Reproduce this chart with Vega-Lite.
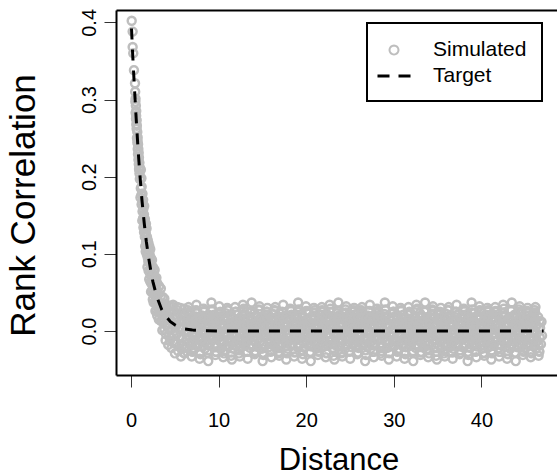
{
  "$schema": "https://vega.github.io/schema/vega-lite/v6.json",
  "width": 441,
  "height": 365,
  "autosize": {"type": "none"},
  "padding": {"left": 116, "top": 10, "right": 0, "bottom": 101},
  "background": "white",
  "config": {
    "view": {"stroke": null},
    "font": "Liberation Sans",
    "legend": {"orient": "none", "legendX": 251, "legendY": 13, "padding": 15, "strokeColor": "black", "strokeWidth": 2, "labelFont": "Liberation Sans", "labelFontSize": 21, "labelColor": "black", "symbolSize": 484, "symbolStrokeWidth": 2, "labelOffset": 27, "rowPadding": 4, "cornerRadius": 0, "labelLimit": 300}
  },
  "datasets": {
    "sim": [
      {"x":0.08,"y":0.402},{"x":0.19,"y":0.388},{"x":0.19,"y":0.368},{"x":0.26,"y":0.360},{"x":0.34,"y":0.338},{"x":0.46,"y":0.321},
      {"x":0.48,"y":0.310},{"x":0.5,"y":0.297},{"x":0.52,"y":0.301},{"x":0.53,"y":0.283},{"x":0.56,"y":0.292},{"x":0.57,"y":0.275},
      {"x":0.6,"y":0.285},{"x":0.61,"y":0.268},{"x":0.59,"y":0.279},{"x":0.64,"y":0.262},{"x":0.65,"y":0.273},{"x":0.68,"y":0.25},{"x":0.67,"y":0.266},
      {"x":0.72,"y":0.258},{"x":0.73,"y":0.244},{"x":0.76,"y":0.251},{"x":0.77,"y":0.236},{"x":0.75,"y":0.247},{"x":0.8,"y":0.229},{"x":0.81,"y":0.242},
      {"x":0.84,"y":0.236},{"x":0.85,"y":0.222},{"x":0.88,"y":0.231},{"x":0.89,"y":0.216},{"x":0.92,"y":0.21},{"x":0.91,"y":0.225},
      {"x":0.96,"y":0.218},{"x":0.97,"y":0.204},{"x":0.95,"y":0.209},{"x":1.0,"y":0.212},{"x":1.01,"y":0.197},
      {"x":1.08,"y":0.173},{"x":1.12,"y":0.185},{"x":1.10,"y":0.197},{"x":1.13,"y":0.209},
      {"x":1.21,"y":0.164},{"x":1.18,"y":0.176},{"x":1.22,"y":0.187},{"x":1.19,"y":0.198},
      {"x":1.29,"y":0.143},{"x":1.32,"y":0.155},{"x":1.28,"y":0.167},{"x":1.31,"y":0.178},
      {"x":1.42,"y":0.134},{"x":1.38,"y":0.146},{"x":1.41,"y":0.158},{"x":1.39,"y":0.170},
      {"x":1.49,"y":0.128},{"x":1.52,"y":0.140},{"x":1.48,"y":0.151},{"x":1.51,"y":0.162},
      {"x":1.62,"y":0.110},{"x":1.58,"y":0.122},{"x":1.61,"y":0.134},{"x":1.59,"y":0.145},
      {"x":1.68,"y":0.103},{"x":1.72,"y":0.115},{"x":1.69,"y":0.127},{"x":1.71,"y":0.139},
      {"x":1.81,"y":0.099},{"x":1.79,"y":0.111},{"x":1.82,"y":0.122},{"x":1.78,"y":0.133},
      {"x":1.88,"y":0.083},{"x":1.92,"y":0.095},{"x":1.89,"y":0.107},{"x":1.91,"y":0.118},
      {"x":2.01,"y":0.078},{"x":1.98,"y":0.090},{"x":2.02,"y":0.102},{"x":1.99,"y":0.114},
      {"x":2.08,"y":0.067},{"x":2.12,"y":0.078},{"x":2.1,"y":0.089},{"x":2.11,"y":0.100},{"x":2.09,"y":0.110},
      {"x":2.21,"y":0.064},{"x":2.18,"y":0.075},{"x":2.22,"y":0.086},{"x":2.19,"y":0.096},{"x":2.2,"y":0.106},
      {"x":2.29,"y":0.051},{"x":2.32,"y":0.062},{"x":2.28,"y":0.073},{"x":2.31,"y":0.084},{"x":2.3,"y":0.094},
      {"x":2.42,"y":0.050},{"x":2.38,"y":0.061},{"x":2.41,"y":0.072},{"x":2.39,"y":0.082},{"x":2.4,"y":0.092},
      {"x":2.49,"y":0.041},{"x":2.52,"y":0.052},{"x":2.48,"y":0.063},{"x":2.51,"y":0.073},{"x":2.5,"y":0.083},
      {"x":2.58,"y":0.037},{"x":2.62,"y":0.048},{"x":2.6,"y":0.059},{"x":2.59,"y":0.070},{"x":2.61,"y":0.080},
      {"x":2.71,"y":0.037},{"x":2.68,"y":0.048},{"x":2.72,"y":0.059},{"x":2.69,"y":0.069},{"x":2.7,"y":0.079},
      {"x":2.79,"y":0.026},{"x":2.82,"y":0.037},{"x":2.78,"y":0.048},{"x":2.81,"y":0.059},{"x":2.8,"y":0.069},
      {"x":2.92,"y":0.027},{"x":2.88,"y":0.038},{"x":2.91,"y":0.049},{"x":2.89,"y":0.059},{"x":2.9,"y":0.069},
      {"x":2.99,"y":0.020},{"x":3.02,"y":0.031},{"x":2.98,"y":0.042},{"x":3.01,"y":0.052},{"x":3.0,"y":0.062},
      {"x":3.18,"y":0.015},{"x":3.23,"y":0.026},{"x":3.2,"y":0.037},{"x":3.16,"y":0.048},{"x":3.22,"y":0.058},
      {"x":3.42,"y":0.013},{"x":3.37,"y":0.024},{"x":3.44,"y":0.035},{"x":3.39,"y":0.045},{"x":3.41,"y":0.055},
      {"x":3.58,"y":0.001},{"x":3.63,"y":0.012},{"x":3.6,"y":0.023},{"x":3.56,"y":0.034},{"x":3.62,"y":0.044},
      {"x":3.82,"y":0.002},{"x":3.77,"y":0.013},{"x":3.84,"y":0.024},{"x":3.79,"y":0.034},{"x":3.81,"y":0.042},
      {"x":3.98,"y":-0.004},{"x":4.04,"y":0.007},{"x":4.0,"y":0.016},{"x":3.95,"y":0.025},{"x":4.07,"y":0.033},
      {"x":4.32,"y":-0.007},{"x":4.26,"y":0.004},{"x":4.35,"y":0.015},{"x":4.28,"y":0.025},{"x":4.31,"y":0.033},
      {"x":4.58,"y":-0.008},{"x":4.64,"y":0.003},{"x":4.6,"y":0.013},{"x":4.55,"y":0.023},{"x":4.66,"y":0.032},
      {"x":4.92,"y":-0.016},{"x":4.86,"y":-0.005},{"x":4.95,"y":0.006},{"x":4.88,"y":0.016},{"x":4.9,"y":0.026},
      {"x":5.18,"y":-0.015},{"x":5.24,"y":-0.004},{"x":5.2,"y":0.007},{"x":5.15,"y":0.017},{"x":5.26,"y":0.027},
      {"x":5.52,"y":-0.019},{"x":5.46,"y":-0.008},{"x":5.55,"y":0.003},{"x":5.48,"y":0.013},{"x":5.5,"y":0.023},
      {"x":5.83,"y":-0.019},{"x":5.89,"y":-0.008},{"x":5.85,"y":0.003},{"x":5.8,"y":0.014},{"x":5.91,"y":0.023},
      {"x":3.95,"y":-0.012},{"x":4.25,"y":-0.018},{"x":4.62,"y":-0.022},{"x":5.02,"y":-0.029},{"x":5.38,"y":-0.026},{"x":5.7,"y":-0.033},{"x":5.3,"y":0.031},{"x":4.8,"y":0.034},{"x":6.05,"y":0.029},{"x":5.97,"y":-0.028},{"x":4.45,"y":-0.013},{"x":5.6,"y":0.03},{"x":6.1,"y":-0.022},{"x":6.1,"y":0.012},
      {"x":6.30,"y":-0.021},{"x":6.42,"y":-0.011},{"x":6.20,"y":0.000},{"x":6.36,"y":0.011},{"x":6.16,"y":0.021},{"x":6.48,"y":0.027},{"x":6.12,"y":-0.029},
      {"x":6.85,"y":-0.019},{"x":6.67,"y":-0.008},{"x":6.89,"y":0.002},{"x":6.70,"y":0.013},{"x":6.78,"y":0.022},{"x":6.57,"y":0.031},{"x":6.93,"y":-0.033},
      {"x":7.08,"y":-0.022},{"x":7.25,"y":-0.012},{"x":7.20,"y":-0.002},{"x":7.11,"y":0.009},{"x":7.33,"y":0.019},{"x":7.38,"y":0.025},{"x":7.02,"y":-0.027},
      {"x":7.65,"y":-0.018},{"x":7.77,"y":-0.007},{"x":7.55,"y":0.003},{"x":7.71,"y":0.014},{"x":7.51,"y":0.023},{"x":7.47,"y":0.034},{"x":7.83,"y":-0.036},
      {"x":8.20,"y":-0.020},{"x":8.02,"y":-0.010},{"x":8.24,"y":0.001},{"x":8.05,"y":0.010},{"x":8.13,"y":0.020},{"x":8.28,"y":0.029},{"x":7.92,"y":-0.030},
      {"x":8.43,"y":-0.023},{"x":8.60,"y":-0.013},{"x":8.55,"y":-0.003},{"x":8.46,"y":0.008},{"x":8.68,"y":0.018},{"x":8.37,"y":0.026},{"x":8.73,"y":-0.028},
      {"x":9.00,"y":-0.017},{"x":9.12,"y":-0.006},{"x":8.90,"y":0.004},{"x":9.06,"y":0.012},{"x":8.86,"y":0.021},{"x":9.18,"y":0.037},{"x":8.82,"y":-0.039},
      {"x":9.55,"y":-0.021},{"x":9.37,"y":-0.011},{"x":9.59,"y":0.000},{"x":9.40,"y":0.011},{"x":9.48,"y":0.021},{"x":9.27,"y":0.028},{"x":9.63,"y":-0.031},
      {"x":9.78,"y":-0.019},{"x":9.95,"y":-0.008},{"x":9.90,"y":0.002},{"x":9.81,"y":0.013},{"x":10.03,"y":0.022},{"x":10.08,"y":0.032},{"x":9.72,"y":-0.027},
      {"x":10.35,"y":-0.022},{"x":10.47,"y":-0.012},{"x":10.25,"y":-0.002},{"x":10.41,"y":0.009},{"x":10.21,"y":0.019},{"x":10.17,"y":0.025},{"x":10.53,"y":-0.034},
      {"x":10.90,"y":-0.018},{"x":10.72,"y":-0.007},{"x":10.94,"y":0.003},{"x":10.75,"y":0.014},{"x":10.83,"y":0.023},{"x":10.98,"y":0.030},{"x":10.62,"y":-0.029},
      {"x":11.13,"y":-0.020},{"x":11.30,"y":-0.010},{"x":11.25,"y":0.001},{"x":11.16,"y":0.010},{"x":11.38,"y":0.020},{"x":11.07,"y":0.027},{"x":11.43,"y":-0.032},
      {"x":11.70,"y":-0.023},{"x":11.82,"y":-0.013},{"x":11.60,"y":-0.003},{"x":11.76,"y":0.008},{"x":11.56,"y":0.018},{"x":11.88,"y":0.031},{"x":11.52,"y":-0.037},
      {"x":12.25,"y":-0.017},{"x":12.07,"y":-0.006},{"x":12.29,"y":0.004},{"x":12.10,"y":0.012},{"x":12.18,"y":0.021},{"x":11.97,"y":0.025},{"x":12.33,"y":-0.029},
      {"x":12.48,"y":-0.021},{"x":12.65,"y":-0.011},{"x":12.60,"y":0.000},{"x":12.51,"y":0.011},{"x":12.73,"y":0.021},{"x":12.78,"y":0.034},{"x":12.42,"y":-0.033},
      {"x":13.05,"y":-0.019},{"x":13.17,"y":-0.008},{"x":12.95,"y":0.002},{"x":13.11,"y":0.013},{"x":12.91,"y":0.022},{"x":12.87,"y":0.029},{"x":13.23,"y":-0.027},
      {"x":13.60,"y":-0.022},{"x":13.42,"y":-0.012},{"x":13.64,"y":-0.002},{"x":13.45,"y":0.009},{"x":13.53,"y":0.019},{"x":13.68,"y":0.026},{"x":13.32,"y":-0.036},
      {"x":13.83,"y":-0.018},{"x":14.00,"y":-0.007},{"x":13.95,"y":0.003},{"x":13.86,"y":0.014},{"x":14.08,"y":0.023},{"x":13.77,"y":0.037},{"x":14.13,"y":-0.030},
      {"x":14.40,"y":-0.020},{"x":14.52,"y":-0.010},{"x":14.30,"y":0.001},{"x":14.46,"y":0.010},{"x":14.26,"y":0.020},{"x":14.58,"y":0.028},{"x":14.22,"y":-0.028},
      {"x":14.95,"y":-0.023},{"x":14.77,"y":-0.013},{"x":14.99,"y":-0.003},{"x":14.80,"y":0.008},{"x":14.88,"y":0.018},{"x":14.67,"y":0.032},{"x":15.03,"y":-0.039},
      {"x":15.18,"y":-0.017},{"x":15.35,"y":-0.006},{"x":15.30,"y":0.004},{"x":15.21,"y":0.012},{"x":15.43,"y":0.021},{"x":15.48,"y":0.025},{"x":15.12,"y":-0.031},
      {"x":15.75,"y":-0.021},{"x":15.87,"y":-0.011},{"x":15.65,"y":0.000},{"x":15.81,"y":0.011},{"x":15.61,"y":0.021},{"x":15.57,"y":0.030},{"x":15.93,"y":-0.027},
      {"x":16.30,"y":-0.019},{"x":16.12,"y":-0.008},{"x":16.34,"y":0.002},{"x":16.15,"y":0.013},{"x":16.23,"y":0.022},{"x":16.38,"y":0.027},{"x":16.02,"y":-0.034},
      {"x":16.53,"y":-0.022},{"x":16.70,"y":-0.012},{"x":16.65,"y":-0.002},{"x":16.56,"y":0.009},{"x":16.78,"y":0.019},{"x":16.47,"y":0.031},{"x":16.83,"y":-0.029},
      {"x":17.10,"y":-0.018},{"x":17.22,"y":-0.007},{"x":17.00,"y":0.003},{"x":17.16,"y":0.014},{"x":16.96,"y":0.023},{"x":17.28,"y":0.025},{"x":16.92,"y":-0.032},
      {"x":17.65,"y":-0.020},{"x":17.47,"y":-0.010},{"x":17.69,"y":0.001},{"x":17.50,"y":0.010},{"x":17.58,"y":0.020},{"x":17.37,"y":0.034},{"x":17.73,"y":-0.037},
      {"x":17.88,"y":-0.023},{"x":18.05,"y":-0.013},{"x":18.00,"y":-0.003},{"x":17.91,"y":0.008},{"x":18.13,"y":0.018},{"x":18.18,"y":0.029},{"x":17.82,"y":-0.029},
      {"x":18.45,"y":-0.017},{"x":18.57,"y":-0.006},{"x":18.35,"y":0.004},{"x":18.51,"y":0.012},{"x":18.31,"y":0.021},{"x":18.27,"y":0.026},{"x":18.63,"y":-0.033},
      {"x":19.00,"y":-0.021},{"x":18.82,"y":-0.011},{"x":19.04,"y":0.000},{"x":18.85,"y":0.011},{"x":18.93,"y":0.021},{"x":19.08,"y":0.037},{"x":18.72,"y":-0.027},
      {"x":19.23,"y":-0.019},{"x":19.40,"y":-0.008},{"x":19.35,"y":0.002},{"x":19.26,"y":0.013},{"x":19.48,"y":0.022},{"x":19.17,"y":0.028},{"x":19.53,"y":-0.036},
      {"x":19.80,"y":-0.022},{"x":19.92,"y":-0.012},{"x":19.70,"y":-0.002},{"x":19.86,"y":0.009},{"x":19.66,"y":0.019},{"x":19.98,"y":0.032},{"x":19.62,"y":-0.030},
      {"x":20.35,"y":-0.018},{"x":20.17,"y":-0.007},{"x":20.39,"y":0.003},{"x":20.20,"y":0.014},{"x":20.28,"y":0.023},{"x":20.07,"y":0.025},{"x":20.43,"y":-0.028},
      {"x":20.58,"y":-0.020},{"x":20.75,"y":-0.010},{"x":20.70,"y":0.001},{"x":20.61,"y":0.010},{"x":20.83,"y":0.020},{"x":20.88,"y":0.030},{"x":20.52,"y":-0.039},
      {"x":21.15,"y":-0.023},{"x":21.27,"y":-0.013},{"x":21.05,"y":-0.003},{"x":21.21,"y":0.008},{"x":21.01,"y":0.018},{"x":20.97,"y":0.027},{"x":21.33,"y":-0.031},
      {"x":21.70,"y":-0.017},{"x":21.52,"y":-0.006},{"x":21.74,"y":0.004},{"x":21.55,"y":0.012},{"x":21.63,"y":0.021},{"x":21.78,"y":0.031},{"x":21.42,"y":-0.027},
      {"x":21.93,"y":-0.021},{"x":22.10,"y":-0.011},{"x":22.05,"y":0.000},{"x":21.96,"y":0.011},{"x":22.18,"y":0.021},{"x":21.87,"y":0.025},{"x":22.23,"y":-0.034},
      {"x":22.50,"y":-0.019},{"x":22.62,"y":-0.008},{"x":22.40,"y":0.002},{"x":22.56,"y":0.013},{"x":22.36,"y":0.022},{"x":22.68,"y":0.034},{"x":22.32,"y":-0.029},
      {"x":23.05,"y":-0.022},{"x":22.87,"y":-0.012},{"x":23.09,"y":-0.002},{"x":22.90,"y":0.009},{"x":22.98,"y":0.019},{"x":22.77,"y":0.029},{"x":23.13,"y":-0.032},
      {"x":23.28,"y":-0.018},{"x":23.45,"y":-0.007},{"x":23.40,"y":0.003},{"x":23.31,"y":0.014},{"x":23.53,"y":0.023},{"x":23.58,"y":0.026},{"x":23.22,"y":-0.037},
      {"x":23.85,"y":-0.020},{"x":23.97,"y":-0.010},{"x":23.75,"y":0.001},{"x":23.91,"y":0.010},{"x":23.71,"y":0.020},{"x":23.67,"y":0.037},{"x":24.03,"y":-0.029},
      {"x":24.40,"y":-0.023},{"x":24.22,"y":-0.013},{"x":24.44,"y":-0.003},{"x":24.25,"y":0.008},{"x":24.33,"y":0.018},{"x":24.48,"y":0.028},{"x":24.12,"y":-0.033},
      {"x":24.63,"y":-0.017},{"x":24.80,"y":-0.006},{"x":24.75,"y":0.004},{"x":24.66,"y":0.012},{"x":24.88,"y":0.021},{"x":24.57,"y":0.032},{"x":24.93,"y":-0.027},
      {"x":25.20,"y":-0.021},{"x":25.32,"y":-0.011},{"x":25.10,"y":0.000},{"x":25.26,"y":0.011},{"x":25.06,"y":0.021},{"x":25.38,"y":0.025},{"x":25.02,"y":-0.036},
      {"x":25.75,"y":-0.019},{"x":25.57,"y":-0.008},{"x":25.79,"y":0.002},{"x":25.60,"y":0.013},{"x":25.68,"y":0.022},{"x":25.47,"y":0.030},{"x":25.83,"y":-0.030},
      {"x":25.98,"y":-0.022},{"x":26.15,"y":-0.012},{"x":26.10,"y":-0.002},{"x":26.01,"y":0.009},{"x":26.23,"y":0.019},{"x":26.28,"y":0.027},{"x":25.92,"y":-0.028},
      {"x":26.55,"y":-0.018},{"x":26.67,"y":-0.007},{"x":26.45,"y":0.003},{"x":26.61,"y":0.014},{"x":26.41,"y":0.023},{"x":26.37,"y":0.031},{"x":26.73,"y":-0.039},
      {"x":27.10,"y":-0.020},{"x":26.92,"y":-0.010},{"x":27.14,"y":0.001},{"x":26.95,"y":0.010},{"x":27.03,"y":0.020},{"x":27.18,"y":0.025},{"x":26.82,"y":-0.031},
      {"x":27.33,"y":-0.023},{"x":27.50,"y":-0.013},{"x":27.45,"y":-0.003},{"x":27.36,"y":0.008},{"x":27.58,"y":0.018},{"x":27.27,"y":0.034},{"x":27.63,"y":-0.027},
      {"x":27.90,"y":-0.017},{"x":28.02,"y":-0.006},{"x":27.80,"y":0.004},{"x":27.96,"y":0.012},{"x":27.76,"y":0.021},{"x":28.08,"y":0.029},{"x":27.72,"y":-0.034},
      {"x":28.45,"y":-0.021},{"x":28.27,"y":-0.011},{"x":28.49,"y":0.000},{"x":28.30,"y":0.011},{"x":28.38,"y":0.021},{"x":28.17,"y":0.026},{"x":28.53,"y":-0.029},
      {"x":28.68,"y":-0.019},{"x":28.85,"y":-0.008},{"x":28.80,"y":0.002},{"x":28.71,"y":0.013},{"x":28.93,"y":0.022},{"x":28.98,"y":0.037},{"x":28.62,"y":-0.032},
      {"x":29.25,"y":-0.022},{"x":29.37,"y":-0.012},{"x":29.15,"y":-0.002},{"x":29.31,"y":0.009},{"x":29.11,"y":0.019},{"x":29.07,"y":0.028},{"x":29.43,"y":-0.037},
      {"x":29.80,"y":-0.018},{"x":29.62,"y":-0.007},{"x":29.84,"y":0.003},{"x":29.65,"y":0.014},{"x":29.73,"y":0.023},{"x":29.88,"y":0.032},{"x":29.52,"y":-0.029},
      {"x":30.03,"y":-0.020},{"x":30.20,"y":-0.010},{"x":30.15,"y":0.001},{"x":30.06,"y":0.010},{"x":30.28,"y":0.020},{"x":29.97,"y":0.025},{"x":30.33,"y":-0.033},
      {"x":30.60,"y":-0.023},{"x":30.72,"y":-0.013},{"x":30.50,"y":-0.003},{"x":30.66,"y":0.008},{"x":30.46,"y":0.018},{"x":30.78,"y":0.030},{"x":30.42,"y":-0.027},
      {"x":31.15,"y":-0.017},{"x":30.97,"y":-0.006},{"x":31.19,"y":0.004},{"x":31.00,"y":0.012},{"x":31.08,"y":0.021},{"x":30.87,"y":0.027},{"x":31.23,"y":-0.036},
      {"x":31.38,"y":-0.021},{"x":31.55,"y":-0.011},{"x":31.50,"y":0.000},{"x":31.41,"y":0.011},{"x":31.63,"y":0.021},{"x":31.68,"y":0.031},{"x":31.32,"y":-0.030},
      {"x":31.95,"y":-0.019},{"x":32.07,"y":-0.008},{"x":31.85,"y":0.002},{"x":32.01,"y":0.013},{"x":31.81,"y":0.022},{"x":31.77,"y":0.025},{"x":32.13,"y":-0.028},
      {"x":32.50,"y":-0.022},{"x":32.32,"y":-0.012},{"x":32.54,"y":-0.002},{"x":32.35,"y":0.009},{"x":32.43,"y":0.019},{"x":32.58,"y":0.034},{"x":32.22,"y":-0.039},
      {"x":32.73,"y":-0.018},{"x":32.90,"y":-0.007},{"x":32.85,"y":0.003},{"x":32.76,"y":0.014},{"x":32.98,"y":0.023},{"x":32.67,"y":0.029},{"x":33.03,"y":-0.031},
      {"x":33.30,"y":-0.020},{"x":33.42,"y":-0.010},{"x":33.20,"y":0.001},{"x":33.36,"y":0.010},{"x":33.16,"y":0.020},{"x":33.48,"y":0.026},{"x":33.12,"y":-0.027},
      {"x":33.85,"y":-0.023},{"x":33.67,"y":-0.013},{"x":33.89,"y":-0.003},{"x":33.70,"y":0.008},{"x":33.78,"y":0.018},{"x":33.57,"y":0.037},{"x":33.93,"y":-0.034},
      {"x":34.08,"y":-0.017},{"x":34.25,"y":-0.006},{"x":34.20,"y":0.004},{"x":34.11,"y":0.012},{"x":34.33,"y":0.021},{"x":34.38,"y":0.028},{"x":34.02,"y":-0.029},
      {"x":34.65,"y":-0.021},{"x":34.77,"y":-0.011},{"x":34.55,"y":0.000},{"x":34.71,"y":0.011},{"x":34.51,"y":0.021},{"x":34.47,"y":0.032},{"x":34.83,"y":-0.032},
      {"x":35.20,"y":-0.019},{"x":35.02,"y":-0.008},{"x":35.24,"y":0.002},{"x":35.05,"y":0.013},{"x":35.13,"y":0.022},{"x":35.28,"y":0.025},{"x":34.92,"y":-0.037},
      {"x":35.43,"y":-0.022},{"x":35.60,"y":-0.012},{"x":35.55,"y":-0.002},{"x":35.46,"y":0.009},{"x":35.68,"y":0.019},{"x":35.37,"y":0.030},{"x":35.73,"y":-0.029},
      {"x":36.00,"y":-0.018},{"x":36.12,"y":-0.007},{"x":35.90,"y":0.003},{"x":36.06,"y":0.014},{"x":35.86,"y":0.023},{"x":36.18,"y":0.027},{"x":35.82,"y":-0.033},
      {"x":36.55,"y":-0.020},{"x":36.37,"y":-0.010},{"x":36.59,"y":0.001},{"x":36.40,"y":0.010},{"x":36.48,"y":0.020},{"x":36.27,"y":0.031},{"x":36.63,"y":-0.027},
      {"x":36.78,"y":-0.023},{"x":36.95,"y":-0.013},{"x":36.90,"y":-0.003},{"x":36.81,"y":0.008},{"x":37.03,"y":0.018},{"x":37.08,"y":0.025},{"x":36.72,"y":-0.036},
      {"x":37.35,"y":-0.017},{"x":37.47,"y":-0.006},{"x":37.25,"y":0.004},{"x":37.41,"y":0.012},{"x":37.21,"y":0.021},{"x":37.17,"y":0.034},{"x":37.53,"y":-0.030},
      {"x":37.90,"y":-0.021},{"x":37.72,"y":-0.011},{"x":37.94,"y":0.000},{"x":37.75,"y":0.011},{"x":37.83,"y":0.021},{"x":37.98,"y":0.029},{"x":37.62,"y":-0.028},
      {"x":38.13,"y":-0.019},{"x":38.30,"y":-0.008},{"x":38.25,"y":0.002},{"x":38.16,"y":0.013},{"x":38.38,"y":0.022},{"x":38.07,"y":0.026},{"x":38.43,"y":-0.039},
      {"x":38.70,"y":-0.022},{"x":38.82,"y":-0.012},{"x":38.60,"y":-0.002},{"x":38.76,"y":0.009},{"x":38.56,"y":0.019},{"x":38.88,"y":0.037},{"x":38.52,"y":-0.031},
      {"x":39.25,"y":-0.018},{"x":39.07,"y":-0.007},{"x":39.29,"y":0.003},{"x":39.10,"y":0.014},{"x":39.18,"y":0.023},{"x":38.97,"y":0.028},{"x":39.33,"y":-0.027},
      {"x":39.48,"y":-0.020},{"x":39.65,"y":-0.010},{"x":39.60,"y":0.001},{"x":39.51,"y":0.010},{"x":39.73,"y":0.020},{"x":39.78,"y":0.032},{"x":39.42,"y":-0.034},
      {"x":40.05,"y":-0.023},{"x":40.17,"y":-0.013},{"x":39.95,"y":-0.003},{"x":40.11,"y":0.008},{"x":39.91,"y":0.018},{"x":39.87,"y":0.025},{"x":40.23,"y":-0.029},
      {"x":40.60,"y":-0.017},{"x":40.42,"y":-0.006},{"x":40.64,"y":0.004},{"x":40.45,"y":0.012},{"x":40.53,"y":0.021},{"x":40.68,"y":0.030},{"x":40.32,"y":-0.032},
      {"x":40.83,"y":-0.021},{"x":41.00,"y":-0.011},{"x":40.95,"y":0.000},{"x":40.86,"y":0.011},{"x":41.08,"y":0.021},{"x":40.77,"y":0.027},{"x":41.13,"y":-0.037},
      {"x":41.40,"y":-0.019},{"x":41.52,"y":-0.008},{"x":41.30,"y":0.002},{"x":41.46,"y":0.013},{"x":41.26,"y":0.022},{"x":41.58,"y":0.031},{"x":41.22,"y":-0.029},
      {"x":41.95,"y":-0.022},{"x":41.77,"y":-0.012},{"x":41.99,"y":-0.002},{"x":41.80,"y":0.009},{"x":41.88,"y":0.019},{"x":41.67,"y":0.025},{"x":42.03,"y":-0.033},
      {"x":42.18,"y":-0.018},{"x":42.35,"y":-0.007},{"x":42.30,"y":0.003},{"x":42.21,"y":0.014},{"x":42.43,"y":0.023},{"x":42.48,"y":0.034},{"x":42.12,"y":-0.027},
      {"x":42.75,"y":-0.020},{"x":42.87,"y":-0.010},{"x":42.65,"y":0.001},{"x":42.81,"y":0.010},{"x":42.61,"y":0.020},{"x":42.57,"y":0.029},{"x":42.93,"y":-0.036},
      {"x":43.30,"y":-0.023},{"x":43.12,"y":-0.013},{"x":43.34,"y":-0.003},{"x":43.15,"y":0.008},{"x":43.23,"y":0.018},{"x":43.38,"y":0.026},{"x":43.02,"y":-0.030},
      {"x":43.53,"y":-0.017},{"x":43.70,"y":-0.006},{"x":43.65,"y":0.004},{"x":43.56,"y":0.012},{"x":43.78,"y":0.021},{"x":43.47,"y":0.037},{"x":43.83,"y":-0.028},
      {"x":44.10,"y":-0.021},{"x":44.22,"y":-0.011},{"x":44.00,"y":0.000},{"x":44.16,"y":0.011},{"x":43.96,"y":0.021},{"x":44.28,"y":0.028},{"x":43.92,"y":-0.039},
      {"x":44.65,"y":-0.019},{"x":44.47,"y":-0.008},{"x":44.69,"y":0.002},{"x":44.50,"y":0.013},{"x":44.58,"y":0.022},{"x":44.37,"y":0.032},{"x":44.73,"y":-0.031},
      {"x":44.88,"y":-0.022},{"x":45.05,"y":-0.012},{"x":45.00,"y":-0.002},{"x":44.91,"y":0.009},{"x":45.13,"y":0.019},{"x":45.18,"y":0.025},{"x":44.82,"y":-0.027},
      {"x":45.45,"y":-0.018},{"x":45.57,"y":-0.007},{"x":45.35,"y":0.003},{"x":45.51,"y":0.014},{"x":45.31,"y":0.023},{"x":45.27,"y":0.030},{"x":45.63,"y":-0.034},
      {"x":46.00,"y":-0.020},{"x":45.82,"y":-0.010},{"x":46.04,"y":0.001},{"x":45.85,"y":0.010},{"x":45.93,"y":0.020},{"x":46.08,"y":0.027},{"x":45.72,"y":-0.029},
      {"x":46.23,"y":-0.023},{"x":46.40,"y":-0.013},{"x":46.35,"y":-0.003},{"x":46.26,"y":0.008},{"x":46.48,"y":0.018},{"x":46.17,"y":0.031},{"x":46.53,"y":-0.032},
      {"x":46.80,"y":-0.017},{"x":46.92,"y":-0.006},{"x":46.70,"y":0.004},{"x":46.86,"y":0.012},{"x":46.62,"y":-0.027},
      {"x":6.58,"y":-0.016},{"x":6.46,"y":-0.005},{"x":6.63,"y":0.006},{"x":6.5,"y":0.016},{"x":6.53,"y":0.024},
      {"x":6.92,"y":-0.013},{"x":7.06,"y":-0.003},{"x":6.96,"y":0.008},{"x":7.04,"y":0.017},{"x":6.98,"y":-0.026},
      {"x":7.48,"y":-0.017},{"x":7.36,"y":-0.007},{"x":7.53,"y":0.004},{"x":7.4,"y":0.014},{"x":7.43,"y":0.027},
      {"x":7.82,"y":-0.012},{"x":7.96,"y":-0.002},{"x":7.86,"y":0.009},{"x":7.94,"y":0.018},{"x":7.88,"y":-0.028},
      {"x":8.38,"y":-0.015},{"x":8.26,"y":-0.004},{"x":8.43,"y":0.006},{"x":8.3,"y":0.015},{"x":8.33,"y":0.025},
      {"x":8.72,"y":-0.018},{"x":8.86,"y":-0.008},{"x":8.76,"y":0.003},{"x":8.84,"y":0.013},{"x":8.78,"y":-0.025},
      {"x":9.28,"y":-0.011},{"x":9.16,"y":-0.001},{"x":9.33,"y":0.008},{"x":9.2,"y":0.017},{"x":9.23,"y":0.026},
      {"x":9.62,"y":-0.016},{"x":9.76,"y":-0.005},{"x":9.66,"y":0.006},{"x":9.74,"y":0.016},{"x":9.68,"y":-0.027},
      {"x":10.18,"y":-0.013},{"x":10.06,"y":-0.003},{"x":10.23,"y":0.008},{"x":10.1,"y":0.017},{"x":10.13,"y":0.024},
      {"x":10.52,"y":-0.017},{"x":10.66,"y":-0.007},{"x":10.56,"y":0.004},{"x":10.64,"y":0.014},{"x":10.58,"y":-0.026},
      {"x":11.08,"y":-0.012},{"x":10.96,"y":-0.002},{"x":11.13,"y":0.009},{"x":11.0,"y":0.018},{"x":11.03,"y":0.027},
      {"x":11.42,"y":-0.015},{"x":11.56,"y":-0.004},{"x":11.46,"y":0.006},{"x":11.54,"y":0.015},{"x":11.48,"y":-0.028},
      {"x":11.98,"y":-0.018},{"x":11.86,"y":-0.008},{"x":12.03,"y":0.003},{"x":11.9,"y":0.013},{"x":11.93,"y":0.025},
      {"x":12.32,"y":-0.011},{"x":12.46,"y":-0.001},{"x":12.36,"y":0.008},{"x":12.44,"y":0.017},{"x":12.38,"y":-0.025},
      {"x":12.88,"y":-0.016},{"x":12.76,"y":-0.005},{"x":12.93,"y":0.006},{"x":12.8,"y":0.016},{"x":12.83,"y":0.026},
      {"x":13.22,"y":-0.013},{"x":13.36,"y":-0.003},{"x":13.26,"y":0.008},{"x":13.34,"y":0.017},{"x":13.28,"y":-0.027},
      {"x":13.78,"y":-0.017},{"x":13.66,"y":-0.007},{"x":13.83,"y":0.004},{"x":13.7,"y":0.014},{"x":13.73,"y":0.024},
      {"x":14.12,"y":-0.012},{"x":14.26,"y":-0.002},{"x":14.16,"y":0.009},{"x":14.24,"y":0.018},{"x":14.18,"y":-0.026},
      {"x":14.68,"y":-0.015},{"x":14.56,"y":-0.004},{"x":14.73,"y":0.006},{"x":14.6,"y":0.015},{"x":14.63,"y":0.027},
      {"x":15.02,"y":-0.018},{"x":15.16,"y":-0.008},{"x":15.06,"y":0.003},{"x":15.14,"y":0.013},{"x":15.08,"y":-0.028},
      {"x":15.58,"y":-0.011},{"x":15.46,"y":-0.001},{"x":15.63,"y":0.008},{"x":15.5,"y":0.017},{"x":15.53,"y":0.025},
      {"x":15.92,"y":-0.016},{"x":16.06,"y":-0.005},{"x":15.96,"y":0.006},{"x":16.04,"y":0.016},{"x":15.98,"y":-0.025},
      {"x":16.48,"y":-0.013},{"x":16.36,"y":-0.003},{"x":16.53,"y":0.008},{"x":16.4,"y":0.017},{"x":16.43,"y":0.026},
      {"x":16.82,"y":-0.017},{"x":16.96,"y":-0.007},{"x":16.86,"y":0.004},{"x":16.94,"y":0.014},{"x":16.88,"y":-0.027},
      {"x":17.38,"y":-0.012},{"x":17.26,"y":-0.002},{"x":17.43,"y":0.009},{"x":17.3,"y":0.018},{"x":17.33,"y":0.024},
      {"x":17.72,"y":-0.015},{"x":17.86,"y":-0.004},{"x":17.76,"y":0.006},{"x":17.84,"y":0.015},{"x":17.78,"y":-0.026},
      {"x":18.28,"y":-0.018},{"x":18.16,"y":-0.008},{"x":18.33,"y":0.003},{"x":18.2,"y":0.013},{"x":18.23,"y":0.027},
      {"x":18.62,"y":-0.011},{"x":18.76,"y":-0.001},{"x":18.66,"y":0.008},{"x":18.74,"y":0.017},{"x":18.68,"y":-0.028},
      {"x":19.18,"y":-0.016},{"x":19.06,"y":-0.005},{"x":19.23,"y":0.006},{"x":19.1,"y":0.016},{"x":19.13,"y":0.025},
      {"x":19.52,"y":-0.013},{"x":19.66,"y":-0.003},{"x":19.56,"y":0.008},{"x":19.64,"y":0.017},{"x":19.58,"y":-0.025},
      {"x":20.08,"y":-0.017},{"x":19.96,"y":-0.007},{"x":20.13,"y":0.004},{"x":20.0,"y":0.014},{"x":20.03,"y":0.026},
      {"x":20.42,"y":-0.012},{"x":20.56,"y":-0.002},{"x":20.46,"y":0.009},{"x":20.54,"y":0.018},{"x":20.48,"y":-0.027},
      {"x":20.98,"y":-0.015},{"x":20.86,"y":-0.004},{"x":21.03,"y":0.006},{"x":20.9,"y":0.015},{"x":20.93,"y":0.024},
      {"x":21.32,"y":-0.018},{"x":21.46,"y":-0.008},{"x":21.36,"y":0.003},{"x":21.44,"y":0.013},{"x":21.38,"y":-0.026},
      {"x":21.88,"y":-0.011},{"x":21.76,"y":-0.001},{"x":21.93,"y":0.008},{"x":21.8,"y":0.017},{"x":21.83,"y":0.027},
      {"x":22.22,"y":-0.016},{"x":22.36,"y":-0.005},{"x":22.26,"y":0.006},{"x":22.34,"y":0.016},{"x":22.28,"y":-0.028},
      {"x":22.78,"y":-0.013},{"x":22.66,"y":-0.003},{"x":22.83,"y":0.008},{"x":22.7,"y":0.017},{"x":22.73,"y":0.025},
      {"x":23.12,"y":-0.017},{"x":23.26,"y":-0.007},{"x":23.16,"y":0.004},{"x":23.24,"y":0.014},{"x":23.18,"y":-0.025},
      {"x":23.68,"y":-0.012},{"x":23.56,"y":-0.002},{"x":23.73,"y":0.009},{"x":23.6,"y":0.018},{"x":23.63,"y":0.026},
      {"x":24.02,"y":-0.015},{"x":24.16,"y":-0.004},{"x":24.06,"y":0.006},{"x":24.14,"y":0.015},{"x":24.08,"y":-0.027},
      {"x":24.58,"y":-0.018},{"x":24.46,"y":-0.008},{"x":24.63,"y":0.003},{"x":24.5,"y":0.013},{"x":24.53,"y":0.024},
      {"x":24.92,"y":-0.011},{"x":25.06,"y":-0.001},{"x":24.96,"y":0.008},{"x":25.04,"y":0.017},{"x":24.98,"y":-0.026},
      {"x":25.48,"y":-0.016},{"x":25.36,"y":-0.005},{"x":25.53,"y":0.006},{"x":25.4,"y":0.016},{"x":25.43,"y":0.027},
      {"x":25.82,"y":-0.013},{"x":25.96,"y":-0.003},{"x":25.86,"y":0.008},{"x":25.94,"y":0.017},{"x":25.88,"y":-0.028},
      {"x":26.38,"y":-0.017},{"x":26.26,"y":-0.007},{"x":26.43,"y":0.004},{"x":26.3,"y":0.014},{"x":26.33,"y":0.025},
      {"x":26.72,"y":-0.012},{"x":26.86,"y":-0.002},{"x":26.76,"y":0.009},{"x":26.84,"y":0.018},{"x":26.78,"y":-0.025},
      {"x":27.28,"y":-0.015},{"x":27.16,"y":-0.004},{"x":27.33,"y":0.006},{"x":27.2,"y":0.015},{"x":27.23,"y":0.026},
      {"x":27.62,"y":-0.018},{"x":27.76,"y":-0.008},{"x":27.66,"y":0.003},{"x":27.74,"y":0.013},{"x":27.68,"y":-0.027},
      {"x":28.18,"y":-0.011},{"x":28.06,"y":-0.001},{"x":28.23,"y":0.008},{"x":28.1,"y":0.017},{"x":28.13,"y":0.024},
      {"x":28.52,"y":-0.016},{"x":28.66,"y":-0.005},{"x":28.56,"y":0.006},{"x":28.64,"y":0.016},{"x":28.58,"y":-0.026},
      {"x":29.08,"y":-0.013},{"x":28.96,"y":-0.003},{"x":29.13,"y":0.008},{"x":29.0,"y":0.017},{"x":29.03,"y":0.027},
      {"x":29.42,"y":-0.017},{"x":29.56,"y":-0.007},{"x":29.46,"y":0.004},{"x":29.54,"y":0.014},{"x":29.48,"y":-0.028},
      {"x":29.98,"y":-0.012},{"x":29.86,"y":-0.002},{"x":30.03,"y":0.009},{"x":29.9,"y":0.018},{"x":29.93,"y":0.025},
      {"x":30.32,"y":-0.015},{"x":30.46,"y":-0.004},{"x":30.36,"y":0.006},{"x":30.44,"y":0.015},{"x":30.38,"y":-0.025},
      {"x":30.88,"y":-0.018},{"x":30.76,"y":-0.008},{"x":30.93,"y":0.003},{"x":30.8,"y":0.013},{"x":30.83,"y":0.026},
      {"x":31.22,"y":-0.011},{"x":31.36,"y":-0.001},{"x":31.26,"y":0.008},{"x":31.34,"y":0.017},{"x":31.28,"y":-0.027},
      {"x":31.78,"y":-0.016},{"x":31.66,"y":-0.005},{"x":31.83,"y":0.006},{"x":31.7,"y":0.016},{"x":31.73,"y":0.024},
      {"x":32.12,"y":-0.013},{"x":32.26,"y":-0.003},{"x":32.16,"y":0.008},{"x":32.24,"y":0.017},{"x":32.18,"y":-0.026},
      {"x":32.68,"y":-0.017},{"x":32.56,"y":-0.007},{"x":32.73,"y":0.004},{"x":32.6,"y":0.014},{"x":32.63,"y":0.027},
      {"x":33.02,"y":-0.012},{"x":33.16,"y":-0.002},{"x":33.06,"y":0.009},{"x":33.14,"y":0.018},{"x":33.08,"y":-0.028},
      {"x":33.58,"y":-0.015},{"x":33.46,"y":-0.004},{"x":33.63,"y":0.006},{"x":33.5,"y":0.015},{"x":33.53,"y":0.025},
      {"x":33.92,"y":-0.018},{"x":34.06,"y":-0.008},{"x":33.96,"y":0.003},{"x":34.04,"y":0.013},{"x":33.98,"y":-0.025},
      {"x":34.48,"y":-0.011},{"x":34.36,"y":-0.001},{"x":34.53,"y":0.008},{"x":34.4,"y":0.017},{"x":34.43,"y":0.026},
      {"x":34.82,"y":-0.016},{"x":34.96,"y":-0.005},{"x":34.86,"y":0.006},{"x":34.94,"y":0.016},{"x":34.88,"y":-0.027},
      {"x":35.38,"y":-0.013},{"x":35.26,"y":-0.003},{"x":35.43,"y":0.008},{"x":35.3,"y":0.017},{"x":35.33,"y":0.024},
      {"x":35.72,"y":-0.017},{"x":35.86,"y":-0.007},{"x":35.76,"y":0.004},{"x":35.84,"y":0.014},{"x":35.78,"y":-0.026},
      {"x":36.28,"y":-0.012},{"x":36.16,"y":-0.002},{"x":36.33,"y":0.009},{"x":36.2,"y":0.018},{"x":36.23,"y":0.027},
      {"x":36.62,"y":-0.015},{"x":36.76,"y":-0.004},{"x":36.66,"y":0.006},{"x":36.74,"y":0.015},{"x":36.68,"y":-0.028},
      {"x":37.18,"y":-0.018},{"x":37.06,"y":-0.008},{"x":37.23,"y":0.003},{"x":37.1,"y":0.013},{"x":37.13,"y":0.025},
      {"x":37.52,"y":-0.011},{"x":37.66,"y":-0.001},{"x":37.56,"y":0.008},{"x":37.64,"y":0.017},{"x":37.58,"y":-0.025},
      {"x":38.08,"y":-0.016},{"x":37.96,"y":-0.005},{"x":38.13,"y":0.006},{"x":38.0,"y":0.016},{"x":38.03,"y":0.026},
      {"x":38.42,"y":-0.013},{"x":38.56,"y":-0.003},{"x":38.46,"y":0.008},{"x":38.54,"y":0.017},{"x":38.48,"y":-0.027},
      {"x":38.98,"y":-0.017},{"x":38.86,"y":-0.007},{"x":39.03,"y":0.004},{"x":38.9,"y":0.014},{"x":38.93,"y":0.024},
      {"x":39.32,"y":-0.012},{"x":39.46,"y":-0.002},{"x":39.36,"y":0.009},{"x":39.44,"y":0.018},{"x":39.38,"y":-0.026},
      {"x":39.88,"y":-0.015},{"x":39.76,"y":-0.004},{"x":39.93,"y":0.006},{"x":39.8,"y":0.015},{"x":39.83,"y":0.027},
      {"x":40.22,"y":-0.018},{"x":40.36,"y":-0.008},{"x":40.26,"y":0.003},{"x":40.34,"y":0.013},{"x":40.28,"y":-0.028},
      {"x":40.78,"y":-0.011},{"x":40.66,"y":-0.001},{"x":40.83,"y":0.008},{"x":40.7,"y":0.017},{"x":40.73,"y":0.025},
      {"x":41.12,"y":-0.016},{"x":41.26,"y":-0.005},{"x":41.16,"y":0.006},{"x":41.24,"y":0.016},{"x":41.18,"y":-0.025},
      {"x":41.68,"y":-0.013},{"x":41.56,"y":-0.003},{"x":41.73,"y":0.008},{"x":41.6,"y":0.017},{"x":41.63,"y":0.026},
      {"x":42.02,"y":-0.017},{"x":42.16,"y":-0.007},{"x":42.06,"y":0.004},{"x":42.14,"y":0.014},{"x":42.08,"y":-0.027},
      {"x":42.58,"y":-0.012},{"x":42.46,"y":-0.002},{"x":42.63,"y":0.009},{"x":42.5,"y":0.018},{"x":42.53,"y":0.024},
      {"x":42.92,"y":-0.015},{"x":43.06,"y":-0.004},{"x":42.96,"y":0.006},{"x":43.04,"y":0.015},{"x":42.98,"y":-0.026},
      {"x":43.48,"y":-0.018},{"x":43.36,"y":-0.008},{"x":43.53,"y":0.003},{"x":43.4,"y":0.013},{"x":43.43,"y":0.027},
      {"x":43.82,"y":-0.011},{"x":43.96,"y":-0.001},{"x":43.86,"y":0.008},{"x":43.94,"y":0.017},{"x":43.88,"y":-0.028},
      {"x":44.38,"y":-0.016},{"x":44.26,"y":-0.005},{"x":44.43,"y":0.006},{"x":44.3,"y":0.016},{"x":44.33,"y":0.025},
      {"x":44.72,"y":-0.013},{"x":44.86,"y":-0.003},{"x":44.76,"y":0.008},{"x":44.84,"y":0.017},{"x":44.78,"y":-0.025},
      {"x":45.28,"y":-0.017},{"x":45.16,"y":-0.007},{"x":45.33,"y":0.004},{"x":45.2,"y":0.014},{"x":45.23,"y":0.026},
      {"x":45.62,"y":-0.012},{"x":45.76,"y":-0.002},{"x":45.66,"y":0.009},{"x":45.74,"y":0.018},{"x":45.68,"y":-0.027},
      {"x":46.18,"y":-0.015},{"x":46.06,"y":-0.004},{"x":46.23,"y":0.006},{"x":46.1,"y":0.015},{"x":46.13,"y":0.024},
      {"x":46.52,"y":-0.018},{"x":46.66,"y":-0.008},{"x":46.56,"y":0.003},{"x":46.64,"y":0.013},{"x":46.58,"y":-0.026}
    ],
    "target": [
      {"x":0.06,"y":0.392},{"x":0.2,"y":0.357},{"x":0.4,"y":0.314},{"x":0.6,"y":0.274},{"x":0.8,"y":0.237},{"x":1.0,"y":0.205},
      {"x":1.25,"y":0.170},{"x":1.5,"y":0.141},{"x":1.75,"y":0.116},{"x":2.0,"y":0.096},{"x":2.25,"y":0.079},{"x":2.5,"y":0.064},
      {"x":2.75,"y":0.053},{"x":3.0,"y":0.043},{"x":3.5,"y":0.028},{"x":4.0,"y":0.019},{"x":4.5,"y":0.012},{"x":5.0,"y":0.008},
      {"x":5.5,"y":0.005},{"x":6.0,"y":0.003},{"x":7.0,"y":0.0014},{"x":8.0,"y":0.0006},{"x":10.0,"y":0.0001},{"x":47.1,"y":0.0}
    ]
  },
  "layer": [
    {
      "data": {"name": "sim"},
      "mark": {"type": "point", "filled": false, "strokeWidth": 2.4, "size": 381, "opacity": 1},
      "encoding": {
        "x": {"field": "x", "type": "quantitative", "scale": {"domain": [-1.71, 48.63], "nice": false, "zero": false},
          "axis": {"values": [0, 10, 20, 30, 40], "format": "d", "title": "Distance", "grid": false,
            "domainColor": "black", "domainWidth": 2, "tickColor": "#333333", "tickWidth": 1, "tickSize": 12,
            "labelFont": "Liberation Sans", "labelFontSize": 20, "labelColor": "black", "labelPadding": 39, "labelBaseline": "alphabetic",
            "labelFlush": false, "labelOverlap": false,
            "titleFont": "Liberation Sans", "titleFontSize": 31, "titleFontWeight": "normal", "titleColor": "black",
            "titleX": 222.5, "titleY": 94, "titleBaseline": "alphabetic", "titleAlign": "center", "titleAnchor": null}},
        "y": {"field": "y", "type": "quantitative", "scale": {"domain": [-0.057, 0.416], "nice": false, "zero": false},
          "axis": {"values": [0, 0.1, 0.2, 0.3, 0.4], "format": ".1f", "title": "Rank Correlation", "grid": false,
            "domainColor": "black", "domainWidth": 2, "tickColor": "#333333", "tickWidth": 1, "tickSize": 12,
            "labelFont": "Liberation Sans", "labelFontSize": 20, "labelColor": "black", "labelPadding": 9,
            "labelAngle": -90, "labelAlign": "center", "labelBaseline": "alphabetic", "labelOverlap": false, "labelFlush": false,
            "titleFont": "Liberation Sans", "titleFontSize": 35, "titleFontWeight": "normal", "titleColor": "black",
            "titleX": -82, "titleY": 195, "titleAngle": -90, "titleBaseline": "alphabetic", "titleAlign": "center", "titleAnchor": null}},
        "color": {"datum": "Simulated", "type": "nominal", "scale": {"domain": ["Simulated", "Target"], "range": ["#bebebe", "#000000"]}, "legend": {"title": null}},
        "shape": {"datum": "Simulated", "type": "nominal", "scale": {"domain": ["Simulated", "Target"], "range": ["M0.41,0L0.379,0.157L0.29,0.29L0.157,0.379L0,0.41L-0.157,0.379L-0.29,0.29L-0.379,0.157L-0.41,0L-0.379,-0.157L-0.29,-0.29L-0.157,-0.379L0,-0.41L0.157,-0.379L0.29,-0.29L0.379,-0.157Z", "M-1.41,-0.045L-0.5,-0.045L-0.5,0.045L-1.41,0.045ZM0.5,-0.045L1.41,-0.045L1.41,0.045L0.5,0.045Z"]}, "legend": {"title": null}}
      }
    },
    {
      "data": {"name": "target"},
      "mark": {"type": "line", "color": "black", "strokeDash": [11, 10], "strokeWidth": 3},
      "encoding": {
        "x": {"field": "x", "type": "quantitative",
          "axis": {"orient": "top", "labels": false, "ticks": false, "title": null, "grid": false, "domainColor": "black", "domainWidth": 2}},
        "y": {"field": "y", "type": "quantitative"}
      }
    }
  ],
  "resolve": {"axis": {"x": "independent"}}
}
